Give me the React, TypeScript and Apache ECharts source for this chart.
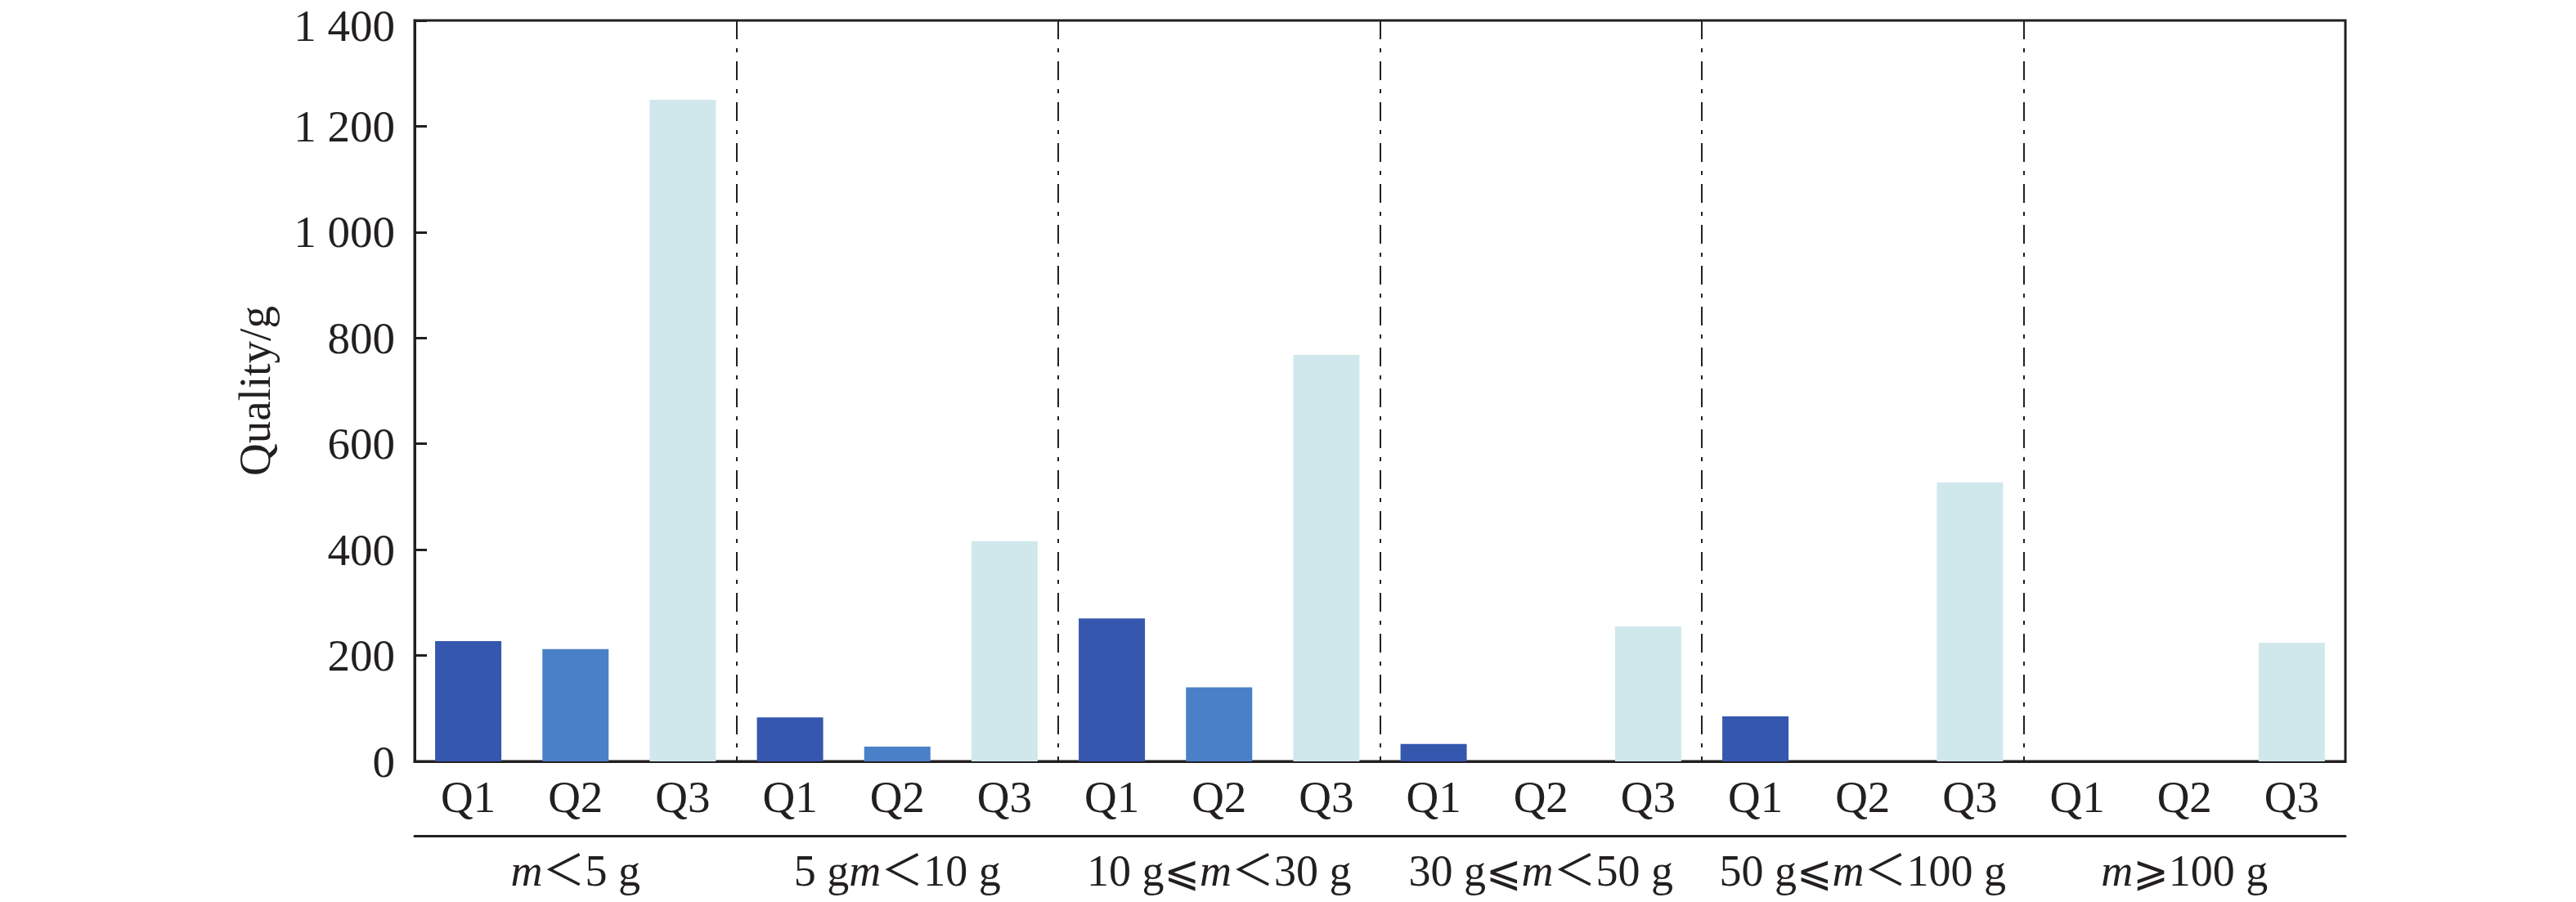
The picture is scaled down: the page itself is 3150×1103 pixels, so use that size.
import React, { useEffect, useRef } from "react";
import * as echarts from "echarts";

const groups = ["m＜5 g", "5 gm＜10 g", "10 g⩽m＜30 g", "30 g⩽m＜50 g", "50 g⩽m＜100 g", "m⩾100 g"];
const qualityLevels = ["Q1", "Q2", "Q3"];
const q1Values = [227, 83, 270, 33, 85, 0];
const q2Values = [212, 28, 140, 0, 0, 0];
const q3Values = [1250, 416, 768, 255, 527, 224];
const qColors = ["#3557ae", "#4a80c8", "#d0e8ec"];
const yMin = 0;
const yMax = 1400;
const yStep = 200;

const INK = "#231f20";
const SERIF = "'Liberation Serif', 'Times New Roman', serif";

export default function App() {
  const ref = useRef<HTMLDivElement>(null);

  useEffect(() => {
    if (!ref.current) return;
    const chart = echarts.init(ref.current, undefined, { renderer: "svg" });

    const categories: string[] = [];
    const values: { value: number; itemStyle: { color: string } }[] = [];
    const seriesByQ = [q1Values, q2Values, q3Values];
    groups.forEach((_, g) => {
      qualityLevels.forEach((q, k) => {
        categories.push(q);
        values.push({ value: seriesByQ[k][g], itemStyle: { color: qColors[k] } });
      });
    });

    const fmtNum = (v: number) =>
      v >= 1000 ? `${Math.floor(v / 1000)} ${String(v % 1000).padStart(3, "0")}` : String(v);
    const fmtY = (v: number) => (v === yMax ? `{t|${fmtNum(v)}}` : fmtNum(v));

    chart.setOption({
      animation: false,
      backgroundColor: "#ffffff",
      grid: {
        left: 507,
        right: 3150 - 2868,
        top: 25,
        bottom: 1103 - 931,
        containLabel: false,
        outerBoundsMode: "none",
        show: true,
        borderColor: INK,
        borderWidth: 3,
        backgroundColor: "transparent",
      },
      xAxis: [
        {
          type: "category",
          data: categories,
          boundaryGap: true,
          axisLine: { show: true, lineStyle: { color: INK, width: 3 } },
          axisTick: { show: false },
          splitLine: { show: false },
          axisLabel: {
            interval: 0,
            margin: 16,
            color: INK,
            fontFamily: SERIF,
            fontSize: 55,
            lineHeight: 54,
          },
        },
        {
          type: "category",
          data: groups,
          position: "bottom",
          offset: 91,
          boundaryGap: true,
          axisLine: { show: true, lineStyle: { color: INK, width: 3 } },
          axisTick: { show: false },
          splitLine: {
            show: true,
            interval: 0,
            lineStyle: { color: INK, width: 2, type: [23, 11, 5, 11] },
          },
          axisLabel: {
            interval: 0,
            margin: 16,
            color: INK,
            fontFamily: SERIF,
            fontSize: 54,
            lineHeight: 54,
            formatter: (s: string) =>
              s.replace(/m/g, "{i|m}").replace(/([＜⩽⩾])/g, "{s|$1}"),
            rich: {
              i: { fontStyle: "italic", fontFamily: SERIF, fontSize: 54, lineHeight: 54, color: INK },
              s: {
                fontFamily: "'DejaVu Sans', 'Noto Sans CJK SC', sans-serif",
                fontSize: 52,
                lineHeight: 54,
                color: INK,
              },
            },
          },
        },
      ],
      yAxis: {
        type: "value",
        min: yMin,
        max: yMax,
        interval: yStep,
        name: "Quality/g",
        nameLocation: "middle",
        nameGap: 168,
        nameTextStyle: { color: INK, fontFamily: SERIF, fontSize: 55 },
        axisLine: { show: true, lineStyle: { color: INK, width: 3 } },
        axisTick: { show: true, inside: true, length: 15, lineStyle: { color: INK, width: 3 } },
        splitLine: { show: false },
        axisLabel: {
          margin: 24,
          color: INK,
          fontFamily: SERIF,
          fontSize: 55,
          lineHeight: 40,
          formatter: fmtY,
          rich: {
            t: {
              color: INK,
              fontFamily: SERIF,
              fontSize: 55,
              lineHeight: 36,
              padding: [12, 0, 0, 0],
            },
          },
        },
      },
      series: [
        {
          type: "bar",
          xAxisIndex: 0,
          data: values,
          barWidth: 81,
        },
      ],
    });

    return () => chart.dispose();
  }, []);

  return (
    <div
      ref={ref}
      style={{ position: "absolute", left: 0, top: 0, width: 3150, height: 1103, background: "#fff" }}
    />
  );
}
